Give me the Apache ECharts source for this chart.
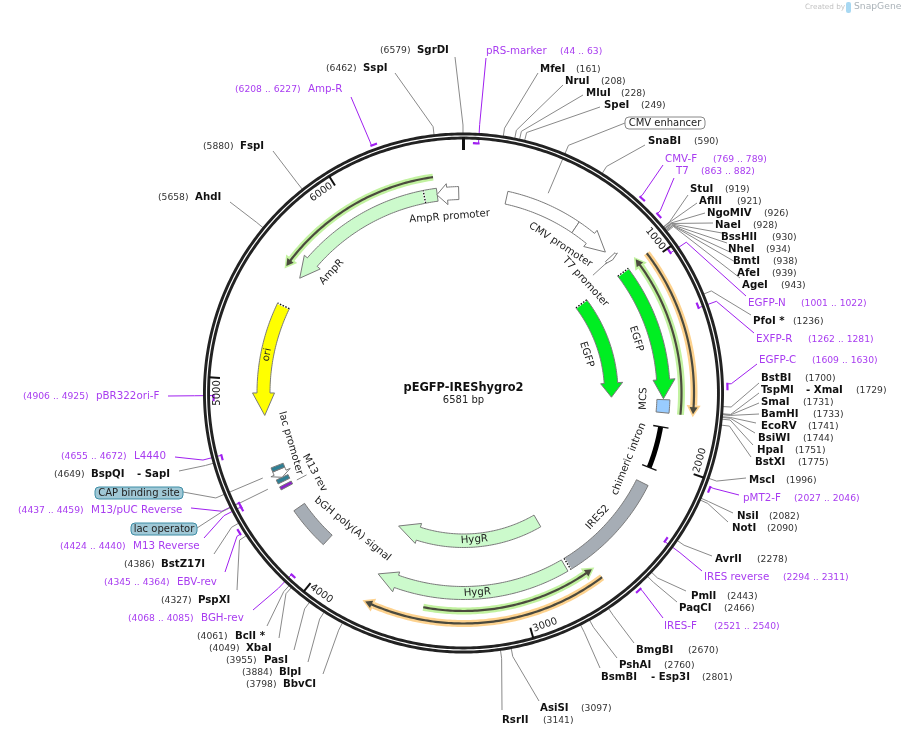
<!DOCTYPE html>
<html>
<head>
<meta charset="utf-8">
<title>pEGFP-IREShygro2</title>
<script src="https://cdn.jsdelivr.net/npm/echarts@6/dist/echarts.min.js"></script>
<style>
html, body { margin: 0; padding: 0; background: #fff; }
#chart { width: 902px; height: 737px; }
</style>
</head>
<body>
<div id="chart"></div>
<script>
var plasmidName = 'pEGFP-IREShygro2';
var plasmidLength = 6581;
var tickValues = [0, 1000, 2000, 3000, 4000, 5000, 6000];

// restriction sites
var siteNames = ['SgrDI', 'SspI', 'FspI', 'AhdI', 'MfeI', 'NruI', 'MluI', 'SpeI', 'SnaBI', 'StuI', 'AflII', 'NgoMIV', 'NaeI', 'BssHII', 'NheI', 'BmtI', 'AfeI', 'AgeI', 'PfoI *', 'BstBI', 'TspMI', 'SmaI', 'BamHI', 'EcoRV', 'BsiWI', 'HpaI', 'BstXI', 'MscI', 'NsiI', 'NotI', 'AvrII', 'PmlI', 'PaqCI', 'BmgBI', 'PshAI', 'BsmBI', 'AsiSI', 'RsrII', 'BbvCI', 'BlpI', 'PasI', 'XbaI', 'BclI *', 'PspXI', 'BstZ17I', 'BspQI'];
var sitePositions = [6579, 6462, 5880, 5658, 161, 208, 228, 249, 590, 919, 921, 926, 928, 930, 934, 938, 939, 943, 1236, 1700, 1729, 1731, 1733, 1741, 1744, 1751, 1775, 1996, 2082, 2090, 2278, 2443, 2466, 2670, 2760, 2801, 3097, 3141, 3798, 3884, 3955, 4049, 4061, 4327, 4386, 4649];
var siteAliases = { TspMI: '- XmaI', BsmBI: '- Esp3I', BspQI: '- SapI' };

// primers
var primerNames = ['pRS-marker', 'CMV-F', 'T7', 'EGFP-N', 'EXFP-R', 'EGFP-C', 'pMT2-F', 'IRES reverse', 'IRES-F', 'BGH-rev', 'EBV-rev', 'M13 Reverse', 'M13/pUC Reverse', 'L4440', 'pBR322ori-F', 'Amp-R'];
var primerStarts = [44, 769, 863, 1001, 1262, 1609, 2027, 2294, 2521, 4068, 4345, 4424, 4437, 4655, 4906, 6208];
var primerEnds = [63, 789, 882, 1022, 1281, 1630, 2046, 2311, 2540, 4085, 4364, 4440, 4459, 4672, 4925, 6227];

// features drawn as bands and arrows
var featureNames = ['CMV enhancer', 'CMV promoter', 'T7 promoter', 'EGFP', 'EGFP', 'MCS', 'chimeric intron', 'IRES2', 'HygR', 'HygR', 'bGH poly(A) signal', 'M13 rev', 'lac operator', 'lac promoter', 'CAP binding site', 'ori', 'AmpR', 'AmpR promoter'];
var featureStarts = [227, 623, 863, 967, 967, 1680, 1823, 2132, 2735, 2742, 4072, 4424, 4458, 4480, 4525, 4818, 5576, 6441];
var featureEnds = [623, 826, 882, 1675, 1675, 1748, 2045, 2718, 3752, 3766, 4300, 4441, 4480, 4524, 4547, 5408, 6443, 6556];
var featureDirections = [0, 1, 1, 1, 1, 0, 0, 0, 1, 1, 0, 0, 0, -1, 0, -1, -1, -1];

// translated strands, from tail to tip
var strandStarts = [6434, 1750, 3485, 963, 2615];
var strandEnds = [5587, 954, 2631, 1742, 3752];

// ---- layout and styles ----
var chartCenter = [463.5, 393];
var ringRadius = 257;
var sitePurple = '#a83cf0';
var markPurple = '#a020f0';
var textFont = '"DejaVu Sans", Verdana, sans-serif';

// [inner radius, outer radius, head inner, head outer, tip radius, head length in bp]
var featureTracks = [
    [193.5, 206.5],
    [193.5, 206.5, 189.5, 210.5, 200, 106],
    [193.5, 206.5, 192, 208, 200, 10],
    [193.5, 206.5, 190, 212, 200, 100],
    [141, 154.5, 137.5, 159.5, 148, 100],
    [193.5, 206.5],
    [197.5, 202.5],
    [193.5, 206.5],
    [193.5, 206.5, 190, 211, 200, 103],
    [141, 154.5, 137, 158, 148, 150],
    [193.5, 206.5],
    [193.5, 206.5],
    [193.5, 206.5],
    [193.5, 206.5, 189, 210, 200, 26],
    [193.5, 206.5],
    [193.5, 206.5, 189, 211, 200, 118],
    [193.5, 206.5, 189.5, 210.5, 200, 107],
    [193.5, 206.5, 189, 210, 200, 54]
];
var featureFills = ['#ffffff', '#ffffff', '#ffffff', '#00ee22', '#00ee22', '#99ccff', '#000000', '#a6adb5', '#ccfacc', '#ccfacc', '#a6adb5', '#8a22c8', '#2f7f94', '#ffffff', '#2f7f94', '#ffff00', '#ccfacc', '#ffffff'];
var strandGlows = ['#c2f2a0', '#c2f2a0', '#c2f2a0', '#fdd28e', '#fdd28e'];
var strandRadii = [218, 218, 218, 230.5, 230.5];

// short radial leaders from a caption to its small feature: [bp, from radius, to radius]
var captionLeaders = [[872, 175, 193], [4432, 177, 188]];

// feature captions: [radius, bp of the caption's middle]
var captionPlaces = [
    ['CMV promoter', 177, 607], ['T7 promoter', 165, 872], ['EGFP', 129, 1327], ['EGFP', 181, 1327],
    ['MCS', 180, 1678], ['chimeric intron', 178, 2043], ['IRES2', 183, 2428], ['HygR', 147, 3213],
    ['HygR', 200, 3218], ['bGH poly(A) signal', 175.5, 4007], ['M13 rev', 169, 4420], ['lac promoter', 180, 4640],
    ['ori', 200, 5137], ['AmpR', 179, 5714], ['AmpR promoter', 177, 6499]
];

// site labels: [name x, y, number x, leader end x, leader end y], numbers on the left for left-hand labels
var siteLabels = {
    SgrDI: [417, 50, 380, 455, 57], SspI: [363, 68, 326, 395, 73], FspI: [240, 146, 203, 273, 151], AhdI: [195, 197, 158, 230, 202],
    MfeI: [540, 69, 576, 538, 73], NruI: [565, 81, 601, 563, 85], MluI: [586, 93, 621, 583, 95], SpeI: [604, 105, 641, 600, 107],
    SnaBI: [648, 141, 694, 645, 145], StuI: [690, 189, 725, 688, 195], AflII: [699, 201, 737, 697, 203], NgoMIV: [707, 213, 764, 705, 213],
    NaeI: [715, 225, 753, 713, 223], BssHII: [721, 237, 772, 722, 233], NheI: [728, 249, 766, 727, 243], BmtI: [733, 261, 773, 732, 253],
    AfeI: [737, 273, 772, 737, 263], AgeI: [742, 285, 781, 740, 278], 'PfoI *': [753, 321, 793, 751, 315], BstBI: [761, 378, 805, 759, 383],
    TspMI: [761, 390, 856, 759, 393], SmaI: [761, 402, 803, 759, 403], BamHI: [761, 414, 813, 759, 414], EcoRV: [761, 426, 808, 756, 423],
    BsiWI: [758, 438, 803, 755, 433], HpaI: [757, 450, 795, 753, 445], BstXI: [755, 462, 798, 751, 457], MscI: [749, 480, 786, 746, 478],
    NsiI: [737, 516, 769, 733, 513], NotI: [732, 528, 767, 728, 522], AvrII: [715, 559, 757, 712, 556], PmlI: [691, 596, 727, 686, 591],
    PaqCI: [679, 608, 724, 677, 602], BmgBI: [636, 650, 688, 634, 643], PshAI: [619, 665, 664, 617, 658], BsmBI: [601, 677, 702, 600, 668],
    AsiSI: [540, 708, 581, 539, 701], RsrII: [502, 720, 543, 502, 710], BbvCI: [283, 684, 246, 323, 674], BlpI: [279, 672, 242, 308, 662],
    PasI: [264, 660, 226, 294, 650], XbaI: [246, 648, 209, 279, 638], 'BclI *': [235, 636, 197, 267, 626], PspXI: [198, 600, 161, 237, 590],
    BstZ17I: [161, 564, 124, 214, 554], BspQI: [91, 474, 54, 179, 471]
};
var aliasX = { TspMI: 806, BsmBI: 651, BspQI: 137 };

// primer labels: [name x, y, number x, leader end x, leader end y, mark radius]
var primerLabels = {
    'pRS-marker': [486, 51, 560, 486, 58, 250], 'CMV-F': [665, 159, 713, 663, 165, 264], T7: [676, 171, 701, 674, 178, 264],
    'EGFP-N': [748, 303, 801, 746, 296, 250], 'EXFP-R': [756, 339, 808, 754, 333, 250], 'EGFP-C': [759, 360, 812, 757, 364, 264],
    'pMT2-F': [743, 498, 794, 739, 495, 264], 'IRES reverse': [704, 577, 783, 702, 571, 250], 'IRES-F': [664, 626, 714, 663, 618, 264],
    'BGH-rev': [201, 618, 128, 253, 610, 250], 'EBV-rev': [177, 582, 104, 225, 572, 264], 'M13 Reverse': [133, 546, 60, 204, 538, 250],
    'M13/pUC Reverse': [91, 510, 18, 191, 508, 250], L4440: [134, 456, 61, 175, 457, 250], 'pBR322ori-F': [96, 396, 23, 168, 396, 250],
    'Amp-R': [308, 89, 235, 351, 97, 264]
};

// boxed feature labels: name, box left, top, width, height, fill, stroke, bp and inner radius of the leader, leader start x, y
var boxedLabels = [
    ['CMV enhancer', 625, 117, 80, 12, '#ffffff', '#888888', 420, 217, 625, 123],
    ['CAP binding site', 95, 487, 88, 12, '#a0c8d6', '#3f8ea6', 4516, 218, 183, 492],
    ['lac operator', 131, 523, 66, 12, '#a0c8d6', '#3f8ea6', 4457, 218, 197, 528]
];

// dotted boundaries on truncated feature ends: [bp, inner radius, outer radius]
var dottedEnds = [
    [6375, 193.5, 206.5], [967, 193.5, 206.5], [967, 141, 154.5], [2718, 193.5, 206.5], [5408, 193.5, 206.5]
];

function arcPoints(api, radius, from, to) {
    var points = [];
    var steps = Math.max(2, Math.ceil(Math.abs(to - from) / 12));
    for (var i = 0; i <= steps; i++) {
        points.push(api.coord([radius, from + (to - from) * i / steps]));
    }
    return points;
}

function radialLine(api, r1, r2, bp, stroke, width) {
    var a = api.coord([r1, bp]), b = api.coord([r2, bp]);
    return { type: 'line', shape: { x1: a[0], y1: a[1], x2: b[0], y2: b[1] }, style: { stroke: stroke, lineWidth: width } };
}

function captionRotation(bp) {
    var deg = bp / plasmidLength * 360;
    if (deg > 270) deg -= 360;
    else if (deg > 90) deg -= 180;
    return -deg * Math.PI / 180;
}

function textItem(p, text, font, fill, align, rotation) {
    return {
        type: 'text',
        x: p[0],
        y: p[1],
        rotation: rotation || 0,
        style: { text: text, font: font, fill: fill, align: align || 'left', verticalAlign: 'middle' }
    };
}

function renderRing(params, api) {
    var pts = arcPoints(api, ringRadius, 0, plasmidLength);
    return {
        type: 'group',
        children: [
            { type: 'polygon', shape: { points: pts }, style: { fill: 'none', stroke: '#222222', lineWidth: 7 } },
            { type: 'polygon', shape: { points: pts }, style: { fill: 'none', stroke: '#ffffff', lineWidth: 1.2 } }
        ]
    };
}

function renderTick(params, api) {
    var bp = tickValues[params.dataIndex];
    if (bp === 0) {
        return radialLine(api, 243, 256, 0, '#111111', 3);
    }
    return {
        type: 'group',
        children: [
            radialLine(api, 244, 255, bp, '#111111', 2),
            textItem(api.coord([246, bp - 64]), String(bp), '10px ' + textFont, '#222222', 'center', captionRotation(bp - 64))
        ]
    };
}

function renderSiteLeader(params, api) {
    var place = siteLabels[siteNames[params.dataIndex]];
    var bp = sitePositions[params.dataIndex];
    return {
        type: 'polyline',
        shape: { points: [api.coord([259, bp]), api.coord([268, bp]), [place[3], place[4]]] },
        style: { fill: 'none', stroke: '#8a8a8a', lineWidth: 1 }
    };
}

function renderPrimerLeader(params, api) {
    var i = params.dataIndex;
    var place = primerLabels[primerNames[i]];
    // outer marks hook on at their start, inner ones at their end
    var outer = place[5] > ringRadius;
    var bp = outer ? primerStarts[i] : primerEnds[i];
    return {
        type: 'polyline',
        shape: { points: [api.coord([place[5], bp]), api.coord([outer ? 268 : 269, bp]), [place[3], place[4]]] },
        style: { fill: 'none', stroke: markPurple, lineWidth: 1 }
    };
}

function renderBoxLeader(params, api) {
    var b = boxedLabels[params.dataIndex];
    return {
        type: 'polyline',
        shape: { points: [[b[9], b[10]], api.coord([269, b[7]]), api.coord([b[8], b[7]])] },
        style: { fill: 'none', stroke: '#8a8a8a', lineWidth: 1 }
    };
}

function renderCaptionLeader(params, api) {
    var l = captionLeaders[params.dataIndex];
    return radialLine(api, l[1], l[2], l[0], '#8a8a8a', 1);
}

function renderPrimerMark(params, api) {
    var i = params.dataIndex;
    var r = primerLabels[primerNames[i]][5];
    return {
        type: 'polyline',
        shape: { points: arcPoints(api, r, primerStarts[i], primerEnds[i]) },
        style: { fill: 'none', stroke: markPurple, lineWidth: 2.2, lineCap: 'square' }
    };
}

function renderFeature(params, api) {
    var i = params.dataIndex;
    var track = featureTracks[i];
    var from = featureStarts[i], to = featureEnds[i], dir = featureDirections[i];
    var fill = featureFills[i];
    var pts;
    if (dir === 0) {
        pts = arcPoints(api, track[1], from, to).concat(arcPoints(api, track[0], to, from));
    } else if (dir === 1) {
        var base = to - track[5];
        pts = arcPoints(api, track[1], from, base)
            .concat([api.coord([track[3], base]), api.coord([track[4], to]), api.coord([track[2], base])])
            .concat(arcPoints(api, track[0], base, from));
    } else {
        var backBase = from + track[5];
        pts = arcPoints(api, track[1], to, backBase)
            .concat([api.coord([track[3], backBase]), api.coord([track[4], from]), api.coord([track[2], backBase])])
            .concat(arcPoints(api, track[0], backBase, to));
    }
    var children = [{
        type: 'polygon',
        shape: { points: pts },
        style: { fill: fill, stroke: fill === '#000000' ? 'none' : '#7a7a7a', lineWidth: 1 }
    }];
    if (featureNames[i] === 'chimeric intron') {
        // end caps of the intron
        children.push(radialLine(api, 192.5, 208, from, '#111111', 1.4));
        children.push(radialLine(api, 192.5, 208, to, '#111111', 1.4));
    }
    return { type: 'group', children: children };
}

function renderDotted(params, api) {
    var d = dottedEnds[params.dataIndex];
    var white = radialLine(api, d[1], d[2], d[0], '#ffffff', 2);
    var dots = radialLine(api, d[1], d[2], d[0], '#111111', 1.4);
    dots.style.lineDash = [1.5, 1.5];
    return { type: 'group', children: [white, dots] };
}

function bpForPixels(px, radius) {
    return px / (2 * Math.PI * radius) * plasmidLength;
}

function renderStrand(params, api) {
    var i = params.dataIndex;
    var from = strandStarts[i], to = strandEnds[i], r = strandRadii[i];
    var sign = to > from ? 1 : -1;
    var glowTip = to + sign * bpForPixels(3, r);
    var glowBack = to - sign * bpForPixels(9, r);
    var darkBack = to - sign * bpForPixels(7, r);
    var darkEnd = to - sign * bpForPixels(5, r);
    return {
        type: 'group',
        children: [
            { type: 'polyline', shape: { points: arcPoints(api, r, from, glowBack) }, style: { fill: 'none', stroke: strandGlows[i], lineWidth: 7 } },
            { type: 'polygon', shape: { points: [api.coord([r + 7, glowBack]), api.coord([r, glowTip]), api.coord([r - 7, glowBack])] }, style: { fill: strandGlows[i] } },
            { type: 'polyline', shape: { points: arcPoints(api, r, from, darkEnd) }, style: { fill: 'none', stroke: '#4b4a3e', lineWidth: 2.2 } },
            { type: 'polygon', shape: { points: [api.coord([r + 4, darkBack]), api.coord([r, to]), api.coord([r - 4, darkBack])] }, style: { fill: '#4b4a3e' } }
        ]
    };
}

function renderCaption(params, api) {
    var c = captionPlaces[params.dataIndex];
    return textItem(api.coord([c[1], c[2]]), c[0], '10.2px ' + textFont, '#222222', 'center', captionRotation(c[2]));
}

function renderSiteLabel(params, api) {
    var i = params.dataIndex;
    var name = siteNames[i];
    var place = siteLabels[name];
    var children = [
        textItem([place[0], place[1]], name, 'bold 10.2px ' + textFont, '#111111'),
        textItem([place[2], place[1] + 0.5], '(' + sitePositions[i] + ')', '9.2px ' + textFont, '#333333')
    ];
    if (siteAliases[name]) {
        children.push(textItem([aliasX[name], place[1]], siteAliases[name], 'bold 10.2px ' + textFont, '#111111'));
    }
    return { type: 'group', children: children };
}

function renderPrimerLabel(params, api) {
    var i = params.dataIndex;
    var place = primerLabels[primerNames[i]];
    return {
        type: 'group',
        children: [
            textItem([place[0], place[1]], primerNames[i], '10.3px ' + textFont, sitePurple),
            textItem([place[2], place[1] + 0.5], '(' + primerStarts[i] + ' .. ' + primerEnds[i] + ')', '9.2px ' + textFont, sitePurple)
        ]
    };
}

function renderBoxLabel(params, api) {
    var b = boxedLabels[params.dataIndex];
    return {
        type: 'group',
        children: [
            { type: 'rect', shape: { x: b[1], y: b[2], width: b[3], height: b[4], r: 4 }, style: { fill: b[5], stroke: b[6], lineWidth: 1 } },
            textItem([b[1] + b[3] / 2, b[2] + b[4] / 2], b[0], '10px ' + textFont, '#222222', 'center')
        ]
    };
}

function renderTitle(params, api) {
    var c = api.coord([0, 0]);
    return {
        type: 'group',
        children: [
            textItem([c[0], c[1] - 5], plasmidName, 'bold 11.4px ' + textFont, '#111111', 'center'),
            textItem([c[0], c[1] + 7], plasmidLength + ' bp', '10px ' + textFont, '#222222', 'center')
        ]
    };
}

function customSeries(values, renderer, z) {
    return {
        type: 'custom',
        coordinateSystem: 'polar',
        silent: true,
        z: z,
        clip: false,
        data: values.map(function (v) { return [0, typeof v === 'number' ? v : 0]; }),
        renderItem: renderer
    };
}

var chart = echarts.init(document.getElementById('chart'), null, { renderer: 'canvas' });

var option = {
    animation: false,
    backgroundColor: '#ffffff',
    polar: { center: chartCenter, radius: 400 },
    radiusAxis: { min: 0, max: 400, show: false },
    angleAxis: { min: 0, max: plasmidLength, startAngle: 90, clockwise: true, show: false },
    graphic: [
        { type: 'text', left: 805, top: 4, style: { text: 'Created by', font: '7.3px ' + textFont, fill: '#c4c4c4' } },
        { type: 'text', left: 854, top: 2, style: { text: 'SnapGene', font: '9.2px ' + textFont, fill: '#aab2b8' } },
        { type: 'rect', left: 846, top: 2, shape: { width: 5, height: 11, r: 2 }, style: { fill: '#a8d8f2' } }
    ],
    series: [
        customSeries(sitePositions, renderSiteLeader, 1),
        customSeries(primerStarts, renderPrimerLeader, 1),
        customSeries(boxedLabels, renderBoxLeader, 1),
        customSeries(captionLeaders, renderCaptionLeader, 1),
        customSeries([0], renderRing, 2),
        customSeries(primerStarts, renderPrimerMark, 3),
        customSeries(tickValues, renderTick, 3),
        customSeries(featureStarts, renderFeature, 3),
        customSeries(dottedEnds, renderDotted, 4),
        customSeries(strandStarts, renderStrand, 3),
        customSeries(captionPlaces, renderCaption, 5),
        customSeries(sitePositions, renderSiteLabel, 5),
        customSeries(primerStarts, renderPrimerLabel, 5),
        customSeries(boxedLabels, renderBoxLabel, 5),
        customSeries([0], renderTitle, 5)
    ]
};

chart.setOption(option);
</script>
</body>
</html>
